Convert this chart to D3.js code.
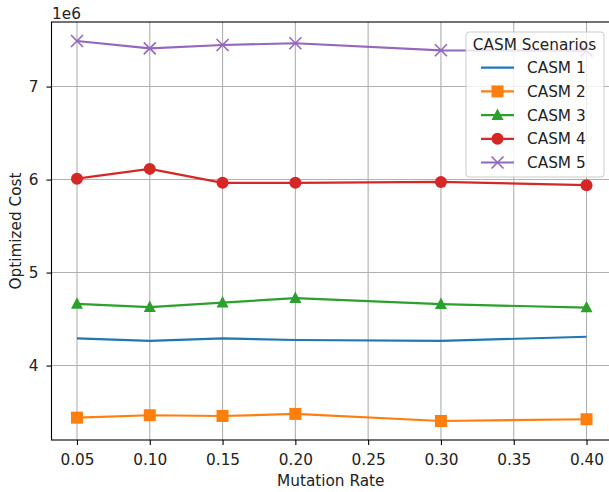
<!DOCTYPE html>
<html><head><meta charset="utf-8">
<script src="https://cdn.jsdelivr.net/npm/d3@7"></script>
<style>body{margin:0;background:#fff}svg{display:block;font-family:"DejaVu Sans",sans-serif}</style>
</head><body><svg id="c" width="609" height="492"></svg>
<script>
const mutationRates = [0.05, 0.10, 0.15, 0.20, 0.30, 0.40];
const seriesNames = ["CASM 1", "CASM 2", "CASM 3", "CASM 4", "CASM 5"];
const casm1 = [4.293e6, 4.265e6, 4.293e6, 4.275e6, 4.265e6, 4.310e6];
const casm2 = [3.440e6, 3.466e6, 3.458e6, 3.480e6, 3.404e6, 3.423e6];
const casm3 = [4.663e6, 4.628e6, 4.677e6, 4.725e6, 4.660e6, 4.624e6];
const casm4 = [6.010e6, 6.115e6, 5.965e6, 5.965e6, 5.975e6, 5.940e6];
const casm5 = [7.490e6, 7.410e6, 7.447e6, 7.466e6, 7.390e6, 7.386e6];
const xTicks = [0.05, 0.10, 0.15, 0.20, 0.25, 0.30, 0.35, 0.40];
const yTicks = [4e6, 5e6, 6e6, 7e6];
const colors = ["#1f77b4", "#ff7f0e", "#2ca02c", "#d62728", "#9467bd"];
const markers = [null, "square", "triangle", "circle", "x"];
const allSeries = [casm1, casm2, casm3, casm4, casm5];

const FS = 15.3;
const svg = d3.select("#c");
const L = 51.5, R = 612, T = 22, B = 440;
const xmin = d3.min(mutationRates), xmax = d3.max(mutationRates);
const xp = (xmax - xmin) * 0.05;
const allV = allSeries.flat();
const ymin = d3.min(allV), ymax = d3.max(allV);
const yp = (ymax - ymin) * 0.05;
const x = d3.scaleLinear().domain([xmin - xp, xmax + xp]).range([L, R]);
const y = d3.scaleLinear().domain([ymin - yp, ymax + yp]).range([B, T]);

// grid
const g = svg.append("g");
g.selectAll(".vg").data(xTicks).enter().append("line")
  .attr("x1", d => x(d)).attr("x2", d => x(d)).attr("y1", T).attr("y2", B)
  .attr("stroke", "#b0b0b0").attr("stroke-width", 1.1);
g.selectAll(".hg").data(yTicks).enter().append("line")
  .attr("x1", L).attr("x2", R).attr("y1", d => y(d)).attr("y2", d => y(d))
  .attr("stroke", "#b0b0b0").attr("stroke-width", 1.1);

// axes
const xAxis = d3.axisBottom(x).tickValues(xTicks).tickFormat(d3.format(".2f")).tickSize(5).tickPadding(9);
const yAxis = d3.axisLeft(y).tickValues(yTicks).tickFormat(d => d / 1e6).tickSize(5).tickPadding(8);
const xa = svg.append("g").attr("transform", `translate(0,${B})`).call(xAxis);
const ya = svg.append("g").attr("transform", `translate(${L},0)`).call(yAxis);
[xa, ya].forEach(a => {
  a.select(".domain").remove();
  a.selectAll(".tick line").attr("stroke", "#000").attr("stroke-width", 1.1);
  a.selectAll(".tick text").attr("fill", "#222").attr("font-size", FS).attr("font-family", "DejaVu Sans");
});
// spines
svg.append("rect").attr("x", L).attr("y", T).attr("width", R - L).attr("height", B - T)
  .attr("fill", "none").attr("stroke", "#000").attr("stroke-width", 1.1);

svg.append("text").attr("x", 52).attr("y", 18.5).attr("font-size", FS).attr("fill", "#222").text("1e6");
svg.append("text").attr("x", (L + R) / 2 - 1).attr("y", 486).attr("text-anchor", "middle")
  .attr("font-size", FS).attr("fill", "#222").text("Mutation Rate");
svg.append("text").attr("transform", `translate(21,${(T + B) / 2}) rotate(-90)`).attr("text-anchor", "middle")
  .attr("font-size", FS).attr("fill", "#222").text("Optimized Cost");

function drawMarker(sel, type, color, cx, cy, s) {
  if (type === "square") sel.append("rect").attr("x", cx - s / 2).attr("y", cy - s / 2).attr("width", s).attr("height", s).attr("fill", color);
  else if (type === "circle") sel.append("circle").attr("cx", cx).attr("cy", cy).attr("r", s / 2).attr("fill", color);
  else if (type === "triangle") {
    const h = s / 2;
    sel.append("path").attr("d", `M${cx},${cy - h * 1.1}L${cx + h},${cy + h * 0.8}L${cx - h},${cy + h * 0.8}Z`).attr("fill", color);
  } else if (type === "x") {
    const h = s / 2;
    sel.append("path").attr("d", `M${cx - h},${cy - h}L${cx + h},${cy + h}M${cx - h},${cy + h}L${cx + h},${cy - h}`)
      .attr("stroke", color).attr("stroke-width", 1.6).attr("fill", "none");
  }
}

const line = d3.line().x((d, i) => x(mutationRates[i])).y(d => y(d));
const plot = svg.append("g");
allSeries.forEach((vals, si) => {
  plot.append("path").attr("d", line(vals)).attr("fill", "none")
    .attr("stroke", colors[si]).attr("stroke-width", 2.2).attr("stroke-linejoin", "round");
  if (markers[si]) vals.forEach((v, i) => drawMarker(plot, markers[si], colors[si], x(mutationRates[i]), y(v), 12));
});

// legend
const lg = svg.append("g");
lg.append("rect").attr("x", 466).attr("y", 32).attr("width", 138).attr("height", 145).attr("rx", 3)
  .attr("fill", "#fff").attr("fill-opacity", 0.8).attr("stroke", "#cccccc").attr("stroke-width", 1);
lg.append("text").attr("x", 534.5).attr("y", 49.5).attr("text-anchor", "middle").attr("font-size", FS).attr("fill", "#222").text("CASM Scenarios");
seriesNames.forEach((n, i) => {
  const cy = 67.7 + i * 23.7;
  lg.append("line").attr("x1", 481).attr("x2", 514).attr("y1", cy).attr("y2", cy).attr("stroke", colors[i]).attr("stroke-width", 2.2);
  if (markers[i]) drawMarker(lg, markers[i], colors[i], 497.5, cy, 12);
  lg.append("text").attr("x", 527).attr("y", cy + 5.5).attr("font-size", FS).attr("fill", "#222").text(n);
});
</script></body></html>
